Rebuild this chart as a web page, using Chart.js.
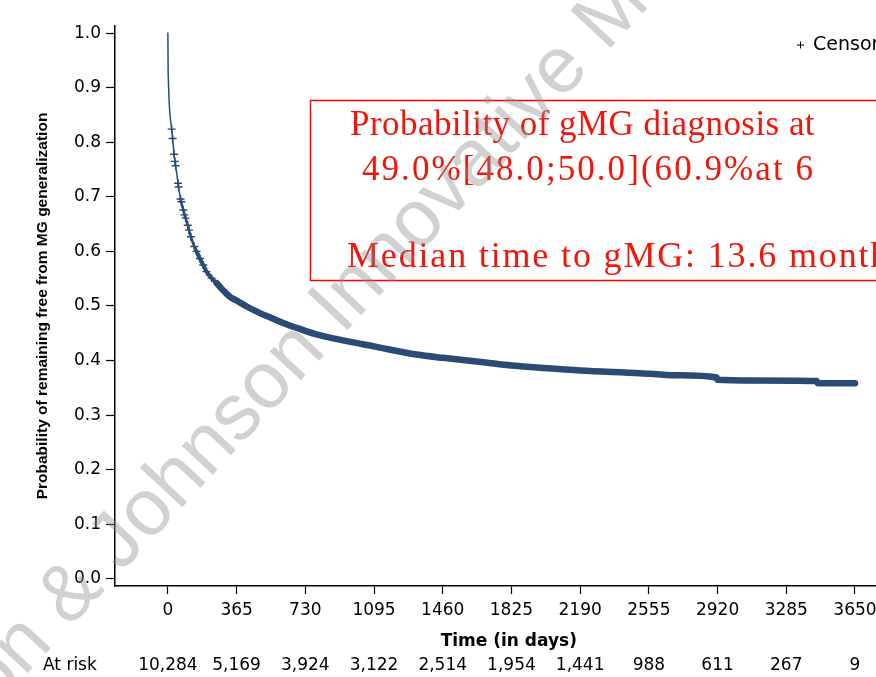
<!DOCTYPE html>
<html>
<head>
<meta charset="utf-8">
<script src="https://cdn.jsdelivr.net/npm/chart.js@4.4.1/dist/chart.umd.min.js"></script>
<style>
  html, body { margin: 0; padding: 0; background: #fff; overflow: hidden; }
  #wrap { width: 908px; height: 677px; }
</style>
</head>
<body>
<div id="wrap"><canvas id="kmChart" width="908" height="677"></canvas></div>
<script>
// Kaplan-Meier curve (days, probability)
const kmDays = [0, 1, 3, 6, 10, 16, 20, 25, 33, 41, 54, 67, 82, 94, 105, 122, 140, 152, 170, 188, 205, 232, 259, 290, 329, 365, 414, 489, 550, 612, 701, 800, 930, 1095, 1321, 1460, 1675, 1825, 1976, 2190, 2508, 2700, 2915, 2920, 3100, 3447, 3452, 3650];
const kmSurv = [1.0, 0.94, 0.91, 0.88, 0.855, 0.835, 0.824, 0.807, 0.778, 0.757, 0.725, 0.696, 0.676, 0.661, 0.648, 0.627, 0.609, 0.600, 0.587, 0.575, 0.563, 0.551, 0.542, 0.530, 0.517, 0.510, 0.500, 0.487, 0.478, 0.469, 0.458, 0.447, 0.437, 0.426, 0.411, 0.405, 0.397, 0.391, 0.387, 0.382, 0.377, 0.373, 0.369, 0.365, 0.3635, 0.3626, 0.3586, 0.3586];

// censored observations that are still visible as separate crosses
const censorDays = [20, 25, 33, 37, 41, 54, 57, 67, 72, 82, 87, 94, 105, 112, 122, 140, 152, 170, 188, 205, 232];
const censorSurv = [0.824, 0.807, 0.778, 0.765, 0.757, 0.725, 0.718, 0.696, 0.691, 0.676, 0.667, 0.661, 0.648, 0.639, 0.627, 0.609, 0.600, 0.587, 0.575, 0.563, 0.551];

const xTicks = [0, 365, 730, 1095, 1460, 1825, 2190, 2555, 2920, 3285, 3650];
const yTicks = [0, 0.1, 0.2, 0.3, 0.4, 0.5, 0.6, 0.7, 0.8, 0.9, 1.0];
const atRisk = ['10,284', '5,169', '3,924', '3,122', '2,514', '1,954', '1,441', '988', '611', '267', '9'];

const boxLines = [
  'Probability of gMG diagnosis at',
  '49.0%[48.0;50.0](60.9%at 6',
  'Median time to gMG: 13.6 months'
];

const navy = '#2a4b76';
const red = '#f0160c';

function fitText(ctx, text, x, y, target, part) {
  // stretch the text with letter spacing so that "part" spans target px
  ctx.letterSpacing = '0px';
  const s = part || text;
  const w = ctx.measureText(s).width;
  const ls = (target - w) / s.length;
  ctx.letterSpacing = ls.toFixed(2) + 'px';
  ctx.fillText(text, x, y);
  ctx.letterSpacing = '0px';
}

const extras = {
  id: 'extras',
  afterDraw(chart) {
    const ctx = chart.ctx;
    const xs = chart.scales.x;
    ctx.save();

    // number at risk
    ctx.fillStyle = '#000';
    ctx.font = '17px "DejaVu Sans"';
    ctx.textBaseline = 'middle';
    ctx.textAlign = 'left';
    ctx.fillText('At risk', 43, 666);
    ctx.textAlign = 'center';
    xTicks.forEach(function(d, i) {
      ctx.fillText(atRisk[i], xs.getPixelForValue(d), 666);
    });

    // legend
    ctx.strokeStyle = '#000';
    ctx.lineWidth = 1;
    ctx.beginPath();
    ctx.moveTo(797, 45); ctx.lineTo(804, 45);
    ctx.moveTo(800.5, 41.5); ctx.lineTo(800.5, 48.5);
    ctx.stroke();
    ctx.textAlign = 'left';
    ctx.font = '19px "DejaVu Sans"';
    ctx.fillText('Censored', 813, 45);

    // red annotation box
    ctx.strokeStyle = '#ff0000';
    ctx.lineWidth = 1.5;
    ctx.strokeRect(310.5, 100.5, 900, 180);
    ctx.fillStyle = red;
    ctx.textBaseline = 'alphabetic';
    ctx.font = '35px "Liberation Serif"';
    fitText(ctx, boxLines[0], 350, 135, 465);
    fitText(ctx, boxLines[1], 362, 180, 453);
    ctx.font = '36px "Liberation Serif"';
    fitText(ctx, boxLines[2], 347, 267, 350, 'Median time to gMG:');

    // watermark
    ctx.translate(121, 573);
    ctx.rotate(-47 * Math.PI / 180);
    ctx.fillStyle = 'rgba(140,140,140,0.4)';
    ctx.font = '80px "Liberation Sans"';
    ctx.textAlign = 'right';
    ctx.fillText('Johnson & ', 0, 0);
    ctx.textAlign = 'left';
    ctx.fillText('Johnson Innovative Medicine', 0, 0);
    ctx.restore();
  }
};

new Chart(document.getElementById('kmChart'), {
  type: 'line',
  data: {
    datasets: [
      {
        label: 'Survivor function',
        data: kmDays.map(function(d, i) { return { x: d, y: kmSurv[i] }; }),
        borderColor: navy,
        borderWidth: 1.5,
        borderCapStyle: 'round',
        borderJoinStyle: 'round',
        cubicInterpolationMode: 'monotone',
        pointRadius: 0,
        fill: false,
        segment: {
          // dense censor marks make the curve look thick after the first months
          borderWidth: function(c) {
            const x = c.p0.parsed.x;
            if (x < 60) return 1.5;
            if (x < 150) return 2.5;
            if (x < 250) return 4;
            return 6.5;
          }
        }
      },
      {
        label: 'Censored',
        type: 'scatter',
        data: censorDays.map(function(d, i) { return { x: d, y: censorSurv[i] }; }),
        pointStyle: 'cross',
        pointRadius: 4,
        borderColor: navy,
        borderWidth: 1.4,
        showLine: false
      }
    ]
  },
  options: {
    responsive: false,
    animation: false,
    devicePixelRatio: 1,
    layout: { padding: { top: 26, right: 0, left: 0, bottom: 0 } },
    plugins: {
      legend: { display: false },
      tooltip: { enabled: false }
    },
    scales: {
      x: {
        type: 'linear',
        min: -281,
        max: 3903,
        afterFit: function(s) { s.height = 91; },
        afterBuildTicks: function(s) { s.ticks = xTicks.map(function(v) { return { value: v }; }); },
        grid: { display: true, drawOnChartArea: false, drawTicks: true, tickLength: 8, tickColor: '#000', tickWidth: 1.2 },
        border: { display: true, color: '#000', width: 1.5 },
        ticks: {
          autoSkip: false,
          maxRotation: 0,
          padding: 6,
          color: '#000',
          font: { family: 'DejaVu Sans', size: 17 },
          callback: function(v) { return String(v); }
        },
        title: {
          display: true,
          text: 'Time (in days)',
          color: '#000',
          font: { family: 'DejaVu Sans', size: 17, weight: 'bold' },
          padding: { top: 0, bottom: 25 }
        }
      },
      y: {
        type: 'linear',
        min: -0.013,
        max: 1.013,
        afterFit: function(s) { s.width = 115; },
        afterBuildTicks: function(s) { s.ticks = yTicks.map(function(v) { return { value: v }; }); },
        grid: { display: true, drawOnChartArea: false, drawTicks: true, tickLength: 9, tickColor: '#000', tickWidth: 1.2 },
        border: { display: true, color: '#000', width: 1.5 },
        ticks: {
          padding: 5,
          color: '#000',
          font: { family: 'DejaVu Sans', size: 17 },
          callback: function(v) { return Number(v).toFixed(1); }
        },
        title: {
          display: true,
          text: 'Probability of remaining free from MG generalization',
          color: '#000',
          font: { family: 'Liberation Sans', size: 15.5, weight: 'bold' },
          padding: { top: 33, bottom: 0 }
        }
      }
    }
  },
  plugins: [extras]
});
</script>
</body>
</html>
